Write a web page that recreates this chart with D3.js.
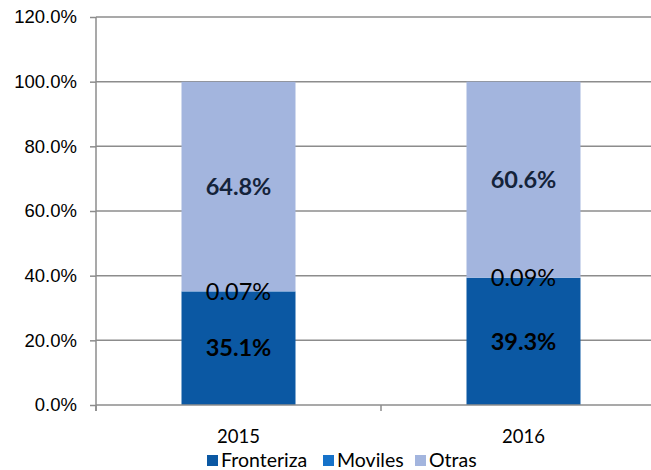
<!DOCTYPE html>
<html>
<head>
<meta charset="UTF-8">
<title>chart</title>
<script src="https://cdn.jsdelivr.net/npm/d3@7"></script>
<style>
  body { margin: 0; background: #fff; }
  svg { font-family: Lato, "Open Sans", sans-serif; }
</style>
</head>
<body>
<svg width="651" height="470"></svg>
<script>
// datos
var years = ["2015", "2016"];
var fronteriza = [35.1, 39.3];
var moviles = [0.07, 0.09];
var otras = [64.8, 60.6];
var seriesNames = ["Fronteriza", "Moviles", "Otras"];
var yTicks = [0, 20, 40, 60, 80, 100, 120];

var colors = ["#0b58a3", "#1672c9", "#a3b5de"];
var svg = d3.select("svg");
var x0 = 96, x1 = 666, yTop = 17, yBot = 405;

var x = d3.scaleBand().domain(years).range([x0, x1]).paddingInner(0).paddingOuter(0);
var y = d3.scaleLinear().domain([0, 120]).range([yBot, yTop]);

// filas para stack
var rows = years.map(function(yr, i) {
  return { year: yr, Fronteriza: fronteriza[i], Moviles: moviles[i], Otras: otras[i] };
});
var stacked = d3.stack().keys(seriesNames)(rows);

// grid
svg.append("g").selectAll("line").data(yTicks.slice(1)).enter().append("line")
  .attr("x1", x0).attr("x2", 651)
  .attr("y1", function(d) { return y(d); }).attr("y2", function(d) { return y(d); })
  .attr("stroke", "#8c8c8c").attr("stroke-width", 1.5);

var barW = 114;
// barras
svg.append("g").selectAll("g").data(stacked).enter().append("g")
  .attr("fill", function(d, i) { return colors[i]; })
  .selectAll("rect").data(function(d) { return d; }).enter().append("rect")
  .attr("x", function(d) { return x(d.data.year) + x.bandwidth() / 2 - barW / 2; })
  .attr("width", barW)
  .attr("y", function(d) { return y(d[1]); })
  .attr("height", function(d) { return y(d[0]) - y(d[1]); });

// ejes
var yAxis = d3.axisLeft(y).tickValues(yTicks).tickSize(6).tickPadding(13)
  .tickFormat(function(d) { return d.toFixed(1) + "%"; });
var gy = svg.append("g").attr("transform", "translate(" + x0 + ",0)").call(yAxis);
gy.select(".domain").attr("stroke", "#8c8c8c").attr("stroke-width", 1.5).attr("d", "M0," + yTop + "V" + (yBot + 6));
gy.selectAll(".tick line").attr("stroke", "#8c8c8c").attr("stroke-width", 1.5);
gy.selectAll("text").attr("font-size", 18.5).attr("fill", "#000");

var gx = svg.append("g").attr("transform", "translate(0," + yBot + ")");
gx.append("line").attr("x1", x0).attr("x2", 651).attr("y1", 0).attr("y2", 0)
  .attr("stroke", "#8c8c8c").attr("stroke-width", 1.5);
gx.selectAll("line.t").data([x0, x0 + x.bandwidth()]).enter().append("line")
  .attr("x1", function(d) { return d; }).attr("x2", function(d) { return d; })
  .attr("y1", 0).attr("y2", 6).attr("stroke", "#8c8c8c").attr("stroke-width", 1.5);
gx.selectAll("text").data(years).enter().append("text")
  .attr("x", function(d) { return x(d) + x.bandwidth() / 2; })
  .attr("y", 38).attr("text-anchor", "middle").attr("font-size", 18.5).text(function(d) { return d; });

// etiquetas
var lbl = svg.append("g");
stacked.forEach(function(s, si) {
  s.forEach(function(d, i) {
    var v = [fronteriza, moviles, otras][si][i];
    lbl.append("text")
      .attr("x", x(d.data.year) + x.bandwidth() / 2)
      .attr("y", y((d[0] + d[1]) / 2))
      .attr("dy", "0.35em")
      .attr("text-anchor", "middle")
      .attr("font-size", 23.5)
      .attr("font-weight", si === 1 ? "normal" : "bold")
      .attr("fill", si === 2 ? "#14233a" : "#000")
      .text(si === 1 ? v.toFixed(2) + "%" : v.toFixed(1) + "%");
  });
});

// leyenda
var legX = [207, 323, 415];
var leg = svg.append("g").selectAll("g").data(seriesNames).enter().append("g")
  .attr("transform", function(d, i) { return "translate(" + legX[i] + ",455)"; });
leg.append("rect").attr("width", 11).attr("height", 11).attr("fill", function(d, i) { return colors[i]; });
leg.append("text").attr("x", 14).attr("y", 12).attr("font-size", 19.5).text(function(d) { return d; });
</script>
</body>
</html>
